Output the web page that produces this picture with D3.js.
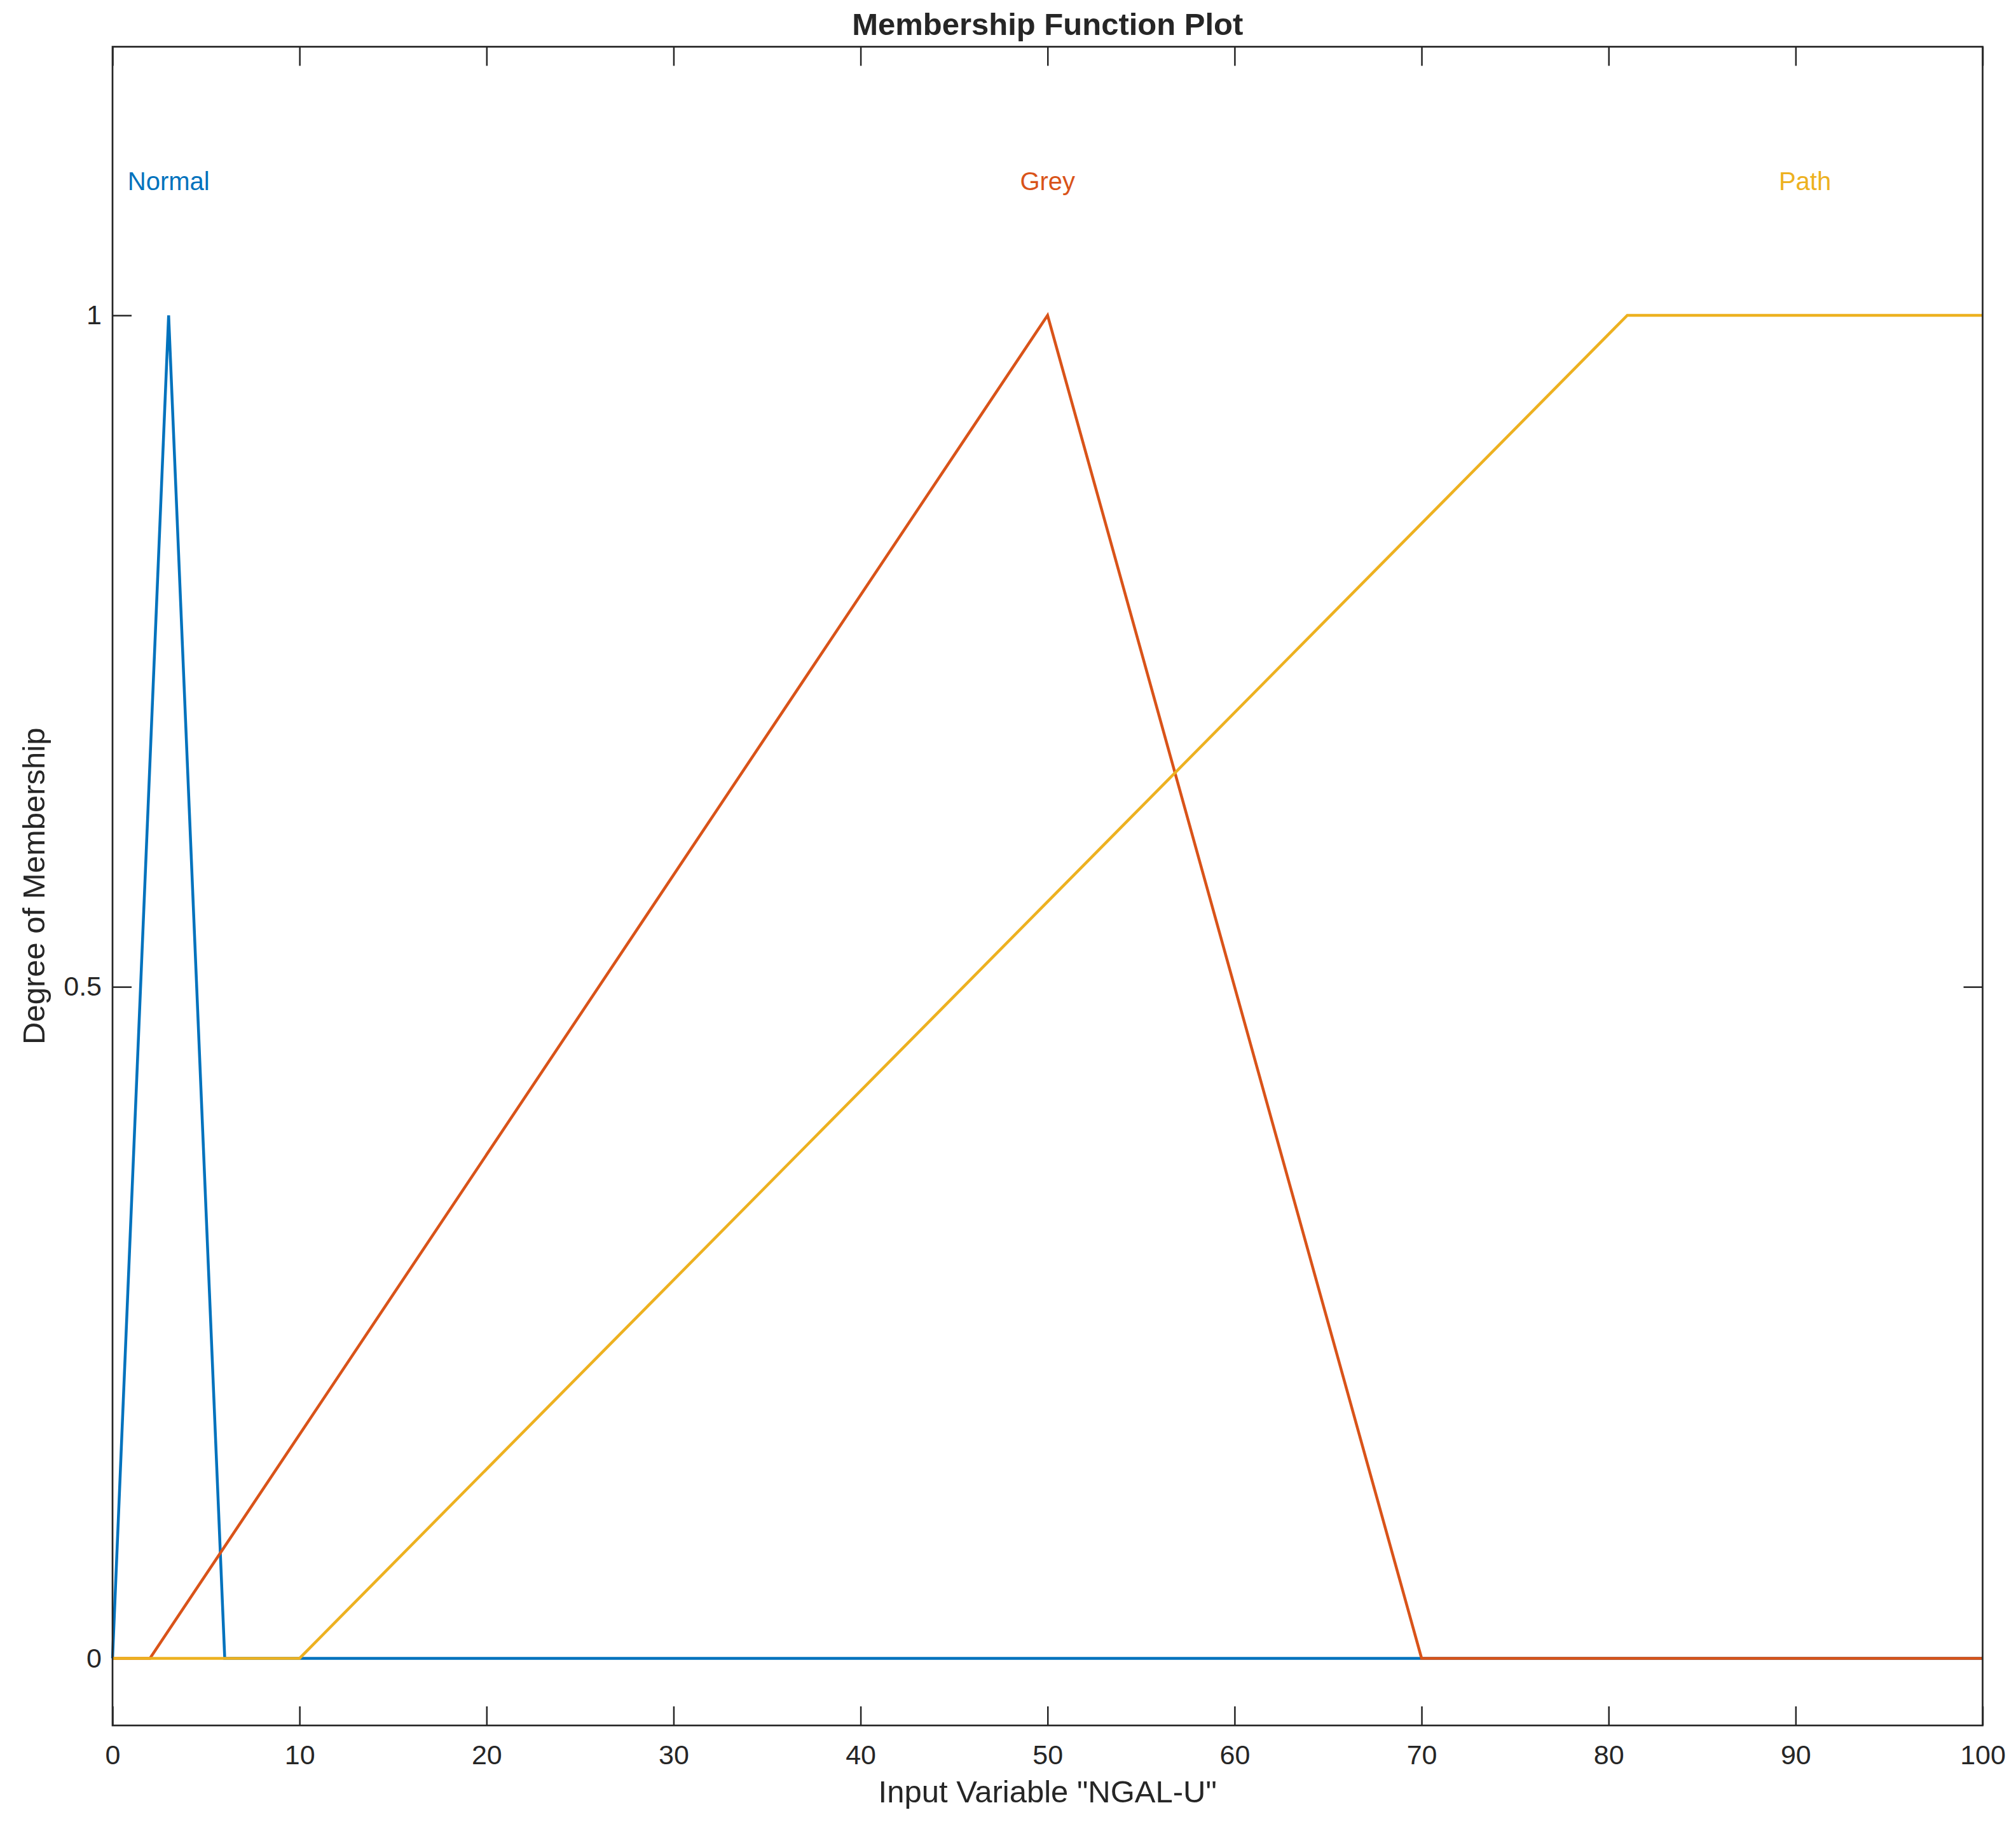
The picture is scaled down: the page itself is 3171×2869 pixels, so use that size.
<!DOCTYPE html>
<html>
<head>
<meta charset="utf-8">
<script src="https://cdn.jsdelivr.net/npm/d3@7"></script>
<style>
  html, body { margin: 0; padding: 0; background: #fff; }
  svg { display: block; }
  text { font-family: "Liberation Sans", Arial, Helvetica, sans-serif; }
</style>
</head>
<body>
<svg id="chart" width="3171" height="2869"></svg>
<script>
// ---- data ----
const xTicks = [0, 10, 20, 30, 40, 50, 60, 70, 80, 90, 100];
const yTicks = [0, 0.5, 1];
const yTickLabels = ["0", "0.5", "1"];
const mfNames = ["Normal", "Grey", "Path"];
const mfColors = ["#0072BD", "#D95319", "#EDB120"];
// Normal: trimf [0 3 6]
const normalX = [0, 3, 6, 100];
const normalY = [0, 1, 0, 0];
// Grey: trimf [2 50 70]
const greyX = [0, 2, 50, 70, 100];
const greyY = [0, 0, 1, 0, 0];
// Path: trapmf [10 81 100 100]
const pathX = [0, 10, 81, 100];
const pathY = [0, 0, 1, 1];
const labelX = [3, 50, 90.5];
const labelY = 1.1;

const titleText = "Membership Function Plot";
const xLabelText = 'Input Variable "NGAL-U"';
const yLabelText = "Degree of Membership";

(function () {
// ---- layout ----
const mLeft = 177, mRight = 3118.5, mTop = 73.5, mBottom = 2714;
const axisColor = "#262626";

const svg = d3.select("#chart");
const x = d3.scaleLinear().domain([0, 100]).range([mLeft, mRight]);
const y = d3.scaleLinear().domain([-0.05, 1.2]).range([mBottom, mTop]);

// axes (ticks drawn beneath the lines)
const tickLen = 30;
const fmtX = d3.format("d");
const gx = svg.append("g").attr("transform", `translate(0,${mBottom})`)
  .call(d3.axisBottom(x).tickValues(xTicks).tickFormat(fmtX)
    .tickSizeInner(-tickLen).tickSizeOuter(0).tickPadding(30));
const gy = svg.append("g").attr("transform", `translate(${mLeft},0)`)
  .call(d3.axisLeft(y).tickValues(yTicks).tickFormat((d, i) => yTickLabels[i])
    .tickSizeInner(-tickLen).tickSizeOuter(0).tickPadding(17));
const gxt = svg.append("g").attr("transform", `translate(0,${mTop})`)
  .call(d3.axisTop(x).tickValues(xTicks).tickFormat("")
    .tickSizeInner(-tickLen).tickSizeOuter(0));
const gyr = svg.append("g").attr("transform", `translate(${mRight},0)`)
  .call(d3.axisRight(y).tickValues(yTicks).tickFormat("")
    .tickSizeInner(-tickLen).tickSizeOuter(0));

[gx, gy, gxt, gyr].forEach(g => {
  g.select(".domain").remove();
  g.selectAll(".tick line").attr("stroke", axisColor).attr("stroke-width", 2.5);
  g.selectAll(".tick text").attr("fill", axisColor).attr("font-size", 43)
    .attr("font-family", '"Liberation Sans", Arial, Helvetica, sans-serif');
});

// lines
const series = [
  normalX.map((v, i) => [v, normalY[i]]),
  greyX.map((v, i) => [v, greyY[i]]),
  pathX.map((v, i) => [v, pathY[i]])
];
const line = d3.line().x(d => x(d[0])).y(d => y(d[1]));
svg.append("g").selectAll("path").data(series).join("path")
  .attr("d", line)
  .attr("fill", "none")
  .attr("stroke", (d, i) => mfColors[i])
  .attr("stroke-width", 4.5)
  .attr("stroke-linejoin", "miter")
  .attr("stroke-miterlimit", 10);

// mf labels
svg.append("g").selectAll("text").data(mfNames).join("text")
  .attr("x", (d, i) => x(labelX[i]))
  .attr("y", y(labelY))
  .attr("dy", "0.36em")
  .attr("text-anchor", "middle")
  .attr("font-size", 40)
  .attr("fill", (d, i) => mfColors[i])
  .text(d => d);

// box
svg.append("rect")
  .attr("x", mLeft).attr("y", mTop)
  .attr("width", mRight - mLeft).attr("height", mBottom - mTop)
  .attr("fill", "none").attr("stroke", axisColor).attr("stroke-width", 2.7);

// title
svg.append("text")
  .attr("x", (mLeft + mRight) / 2).attr("y", 55)
  .attr("text-anchor", "middle")
  .attr("font-size", 49).attr("font-weight", "bold")
  .attr("fill", axisColor)
  .text(titleText);

// x label
svg.append("text")
  .attr("x", (mLeft + mRight) / 2).attr("y", 2835)
  .attr("text-anchor", "middle")
  .attr("font-size", 49)
  .attr("fill", axisColor)
  .text(xLabelText);

// y label
svg.append("text")
  .attr("transform", `translate(70,${(mTop + mBottom) / 2}) rotate(-90)`)
  .attr("text-anchor", "middle")
  .attr("font-size", 49)
  .attr("fill", axisColor)
  .text(yLabelText);
})();
</script>
</body>
</html>
